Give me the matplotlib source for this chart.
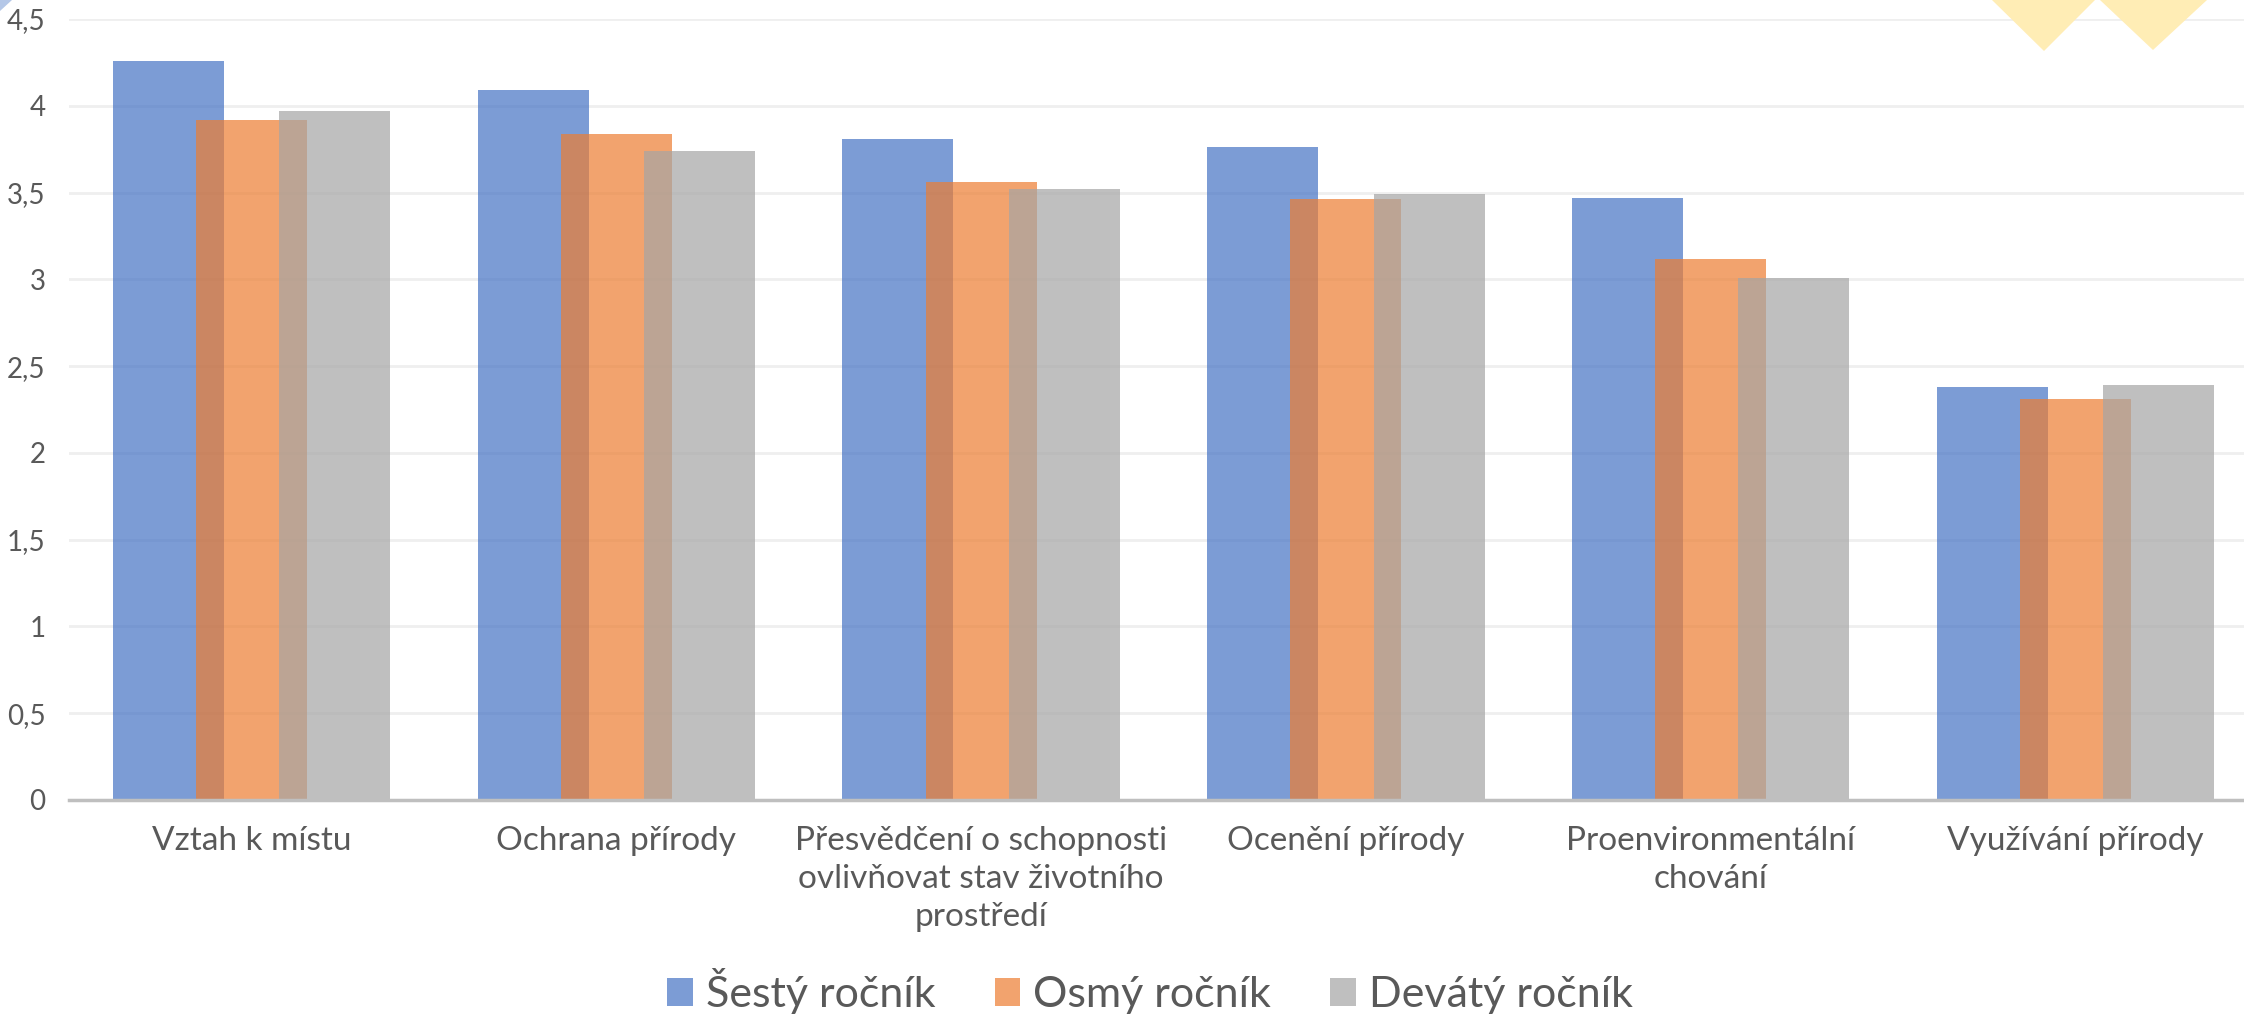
import matplotlib
matplotlib.use("Agg")
import matplotlib.pyplot as plt
from matplotlib.patches import Polygon, Patch
import numpy as np

categories = [
    "Vztah k místu",
    "Ochrana přírody",
    "Přesvědčení o schopnosti\novlivňovat stav životního\nprostředí",
    "Ocenění přírody",
    "Proenvironmentální\nchování",
    "Využívání přírody",
]
series_names = ["Šestý ročník", "Osmý ročník", "Devátý ročník"]
sesty = [4.26, 4.09, 3.81, 3.76, 3.47, 2.38]
osmy = [3.92, 3.84, 3.56, 3.46, 3.12, 2.31]
devaty = [3.97, 3.74, 3.52, 3.49, 3.01, 2.39]
yticks = [0, 0.5, 1, 1.5, 2, 2.5, 3, 3.5, 4, 4.5]
ytick_labels = ["0", "0,5", "1", "1,5", "2", "2,5", "3", "3,5", "4", "4,5"]

colors = ["#4472C4", "#ED7D31", "#A5A5A5"]
alpha = 0.7
font = ["Lato", "DejaVu Sans"]
text_color = "#595959"

W, H = 2244, 1016
fig = plt.figure(figsize=(W / 100, H / 100), dpi=100)
fig.patch.set_facecolor("white")

# decorative triangles (figure pixel coordinates)
for pts, c in [
    ([(1992, 0), (2095, 0), (2044, 51)], "#FFEDB5"),
    ([(2100, 0), (2207, 0), (2153, 50)], "#FFEDB5"),
    ([(0, 0), (12, 0), (0, 11)], "#B4C7E7"),
]:
    fpts = [(x / W, 1 - y / H) for x, y in pts]
    fig.patches.append(Polygon(fpts, closed=True, transform=fig.transFigure,
                               facecolor=c, edgecolor="none", zorder=0))

left = 69 / W
right = 2258 / W
bottom = 1 - 800 / H
top = 1 - 19 / H
ax = fig.add_axes([left, bottom, right - left, top - bottom])
ax.set_facecolor("none")

x = np.arange(len(categories))
width = 0.304
step = 0.228
for i, (vals, c) in enumerate(zip([sesty, osmy, devaty], colors)):
    ax.bar(x + (i - 1) * step, vals, width=width, color=c, alpha=alpha,
           zorder=3 + i, linewidth=0)

ax.set_xlim(-0.5, len(categories) - 0.5)
ax.set_ylim(0, 4.5)
ax.set_yticks(yticks)
ax.set_yticklabels(ytick_labels, fontsize=20, color=text_color, family=font)
ax.set_xticks(x)
ax.set_xticklabels(categories, fontsize=24, color=text_color, family=font,
                   linespacing=1.32, va="top")
ax.tick_params(axis="both", length=0)
ax.tick_params(axis="y", pad=17)
ax.tick_params(axis="x", pad=19)
ax.grid(axis="y", color="#EFEFEF", linewidth=2, zorder=0)
ax.set_axisbelow(True)
for s in ["top", "right", "left"]:
    ax.spines[s].set_visible(False)
ax.spines["bottom"].set_color("#BFBFBF")
ax.spines["bottom"].set_linewidth(2.5)
ax.spines["bottom"].set_zorder(10)

handles = [Patch(facecolor=c, alpha=alpha, edgecolor="none") for c in colors]
leg = fig.legend(handles, series_names, loc="center", bbox_to_anchor=(1150 / W, 1 - 991 / H),
                 ncol=3, frameon=False, prop={"family": font, "size": 31},
                 handlelength=0.6, handleheight=0.62, handletextpad=0.3,
                 columnspacing=1.37, labelcolor=text_color)

fig.savefig("out.png", dpi=100, facecolor="white")
